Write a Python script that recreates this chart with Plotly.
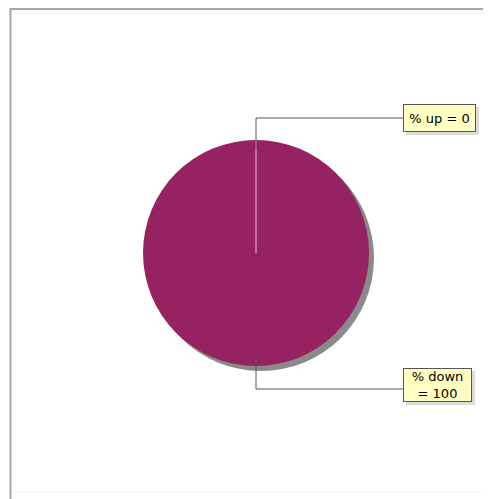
import plotly.graph_objects as go

labels = ["% up", "% down"]
values = [0, 100]
slice_color = "#962262"

# the page puts the plot 8px in from the top-left corner
OFF = 8
W, H = 491 - OFF, 499 - OFF

def px(x):
    return (x - OFF) / W

def py(y):
    return 1 - (y - OFF) / H

fig = go.Figure()

# shadow pie, offset a few pixels right/down
fig.add_trace(go.Pie(
    values=[sum(values)], labels=["shadow"], sort=False,
    marker=dict(colors=["#8a8a8a"], line=dict(width=0)),
    textinfo="none", hoverinfo="skip", showlegend=False,
    domain=dict(x=[px(148), px(374)], y=[py(371), py(145)]),
))

fig.add_trace(go.Pie(
    values=values, labels=labels, sort=False, direction="clockwise",
    marker=dict(colors=["#ffffff", slice_color], line=dict(width=0)),
    textinfo="none", showlegend=False,
    domain=dict(x=[px(143), px(369)], y=[py(366), py(140)]),
))

cx = 256

def line(x0, y0, x1, y1, color, width=1):
    return dict(type="line", xref="paper", yref="paper",
                x0=px(x0), y0=py(y0), x1=px(x1), y1=py(y1),
                line=dict(color=color, width=width))

shapes = [
    # chart frame: strong left/top, faint right/bottom
    line(10, 492, 490, 492, "#f2f2f2"),
    line(490, 8, 490, 492, "#f2f2f2"),
    line(10.5, 8, 10.5, 499, "#a8a8a8", 2),
    line(10, 9, 491, 9, "#a8a8a8", 2),
    # boundary of empty slice
    line(cx, 253, cx, 140, "#e6c6d6"),
    # leader lines
    dict(type="path", xref="paper", yref="paper",
         path=f"M {px(cx)} {py(150)} L {px(cx)} {py(118)} L {px(403)} {py(118)}",
         line=dict(color="#555555", width=1)),
    dict(type="path", xref="paper", yref="paper",
         path=f"M {px(cx)} {py(355)} L {px(cx)} {py(389)} L {px(403)} {py(389)}",
         line=dict(color="#555555", width=1)),
    # label box shadows
    dict(type="rect", xref="paper", yref="paper", x0=px(406), x1=px(479), y0=py(135), y1=py(107),
         line=dict(width=0), fillcolor="#dcdcdc"),
    dict(type="rect", xref="paper", yref="paper", x0=px(406), x1=px(475), y0=py(405), y1=py(371),
         line=dict(width=0), fillcolor="#dcdcdc"),
]

label_texts = [f"{labels[0]} = {values[0]}", f"{labels[1]}<br>= {values[1]}"]
# box top/bottom, inner width/height and padding for each label
boxes = [(104, 132, 69, 24, 1), (368, 402, 65, 30, 1)]
annotations = []
for txt, (top, bot, w, h, pad) in zip(label_texts, boxes):
    annotations.append(dict(
        text=txt, xref="paper", yref="paper", x=px(403), y=py((top + bot) / 2),
        xanchor="left", yanchor="middle", showarrow=False, align="center",
        width=w, height=h,
        font=dict(family="DejaVu Sans", size=13, color="#000000"),
        bgcolor="#ffffc4", bordercolor="#555555", borderwidth=1, borderpad=pad,
    ))

fig.update_layout(
    width=W, height=H,
    margin=dict(l=0, r=0, t=0, b=0),
    paper_bgcolor="white", plot_bgcolor="white",
    shapes=shapes, annotations=annotations,
)

fig.write_html("out.html")
